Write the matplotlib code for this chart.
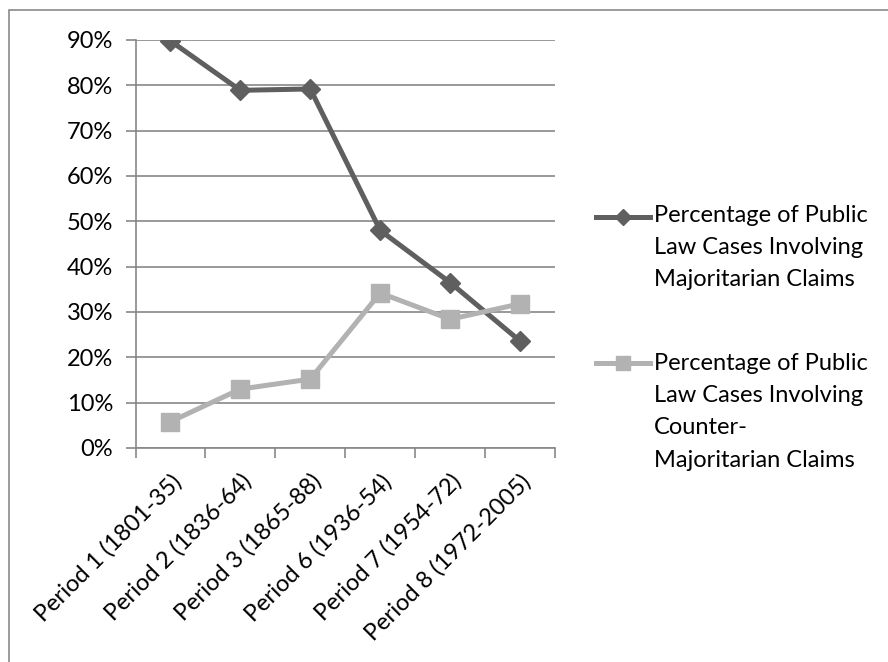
import numpy as np
import matplotlib
matplotlib.use('Agg')
import matplotlib.pyplot as plt
from matplotlib.lines import Line2D
from matplotlib.patches import Rectangle
from matplotlib.ticker import FixedLocator, PercentFormatter

plt.rcParams['font.family'] = ['Lato', 'DejaVu Sans']

periodos = ['Period 1 (1801-35)', 'Period 2 (1836-64)', 'Period 3 (1865-88)',
            'Period 6 (1936-54)', 'Period 7 (1954-72)', 'Period 8 (1972-2005)']
majoritarios = [89.8, 78.9, 79.2, 48.0, 36.5, 23.6]
contra_majoritarios = [5.8, 13.0, 15.2, 34.2, 28.4, 31.8]
rotulo_maj = 'Percentage of Public\nLaw Cases Involving\nMajoritarian Claims'
rotulo_contra = 'Percentage of Public\nLaw Cases Involving\nCounter-\nMajoritarian Claims'

cor_escura = '#5f5f5f'
cor_clara = '#b2b2b2'
cor_eixo = '#878787'
tam_fonte = 17

fig = plt.figure(figsize=(8.88, 6.62), dpi=100)
W, H = 888, 662

# moldura externa (so topo e esquerda aparecem)
fig.patches.append(Rectangle((9 / W, -0.1), 1.2, 1 - 10 / H + 0.1, transform=fig.transFigure,
                             fill=False, edgecolor='#8a8a8a', linewidth=1.2))

ax = fig.add_axes([135.5 / W, 1 - 448 / H, (555 - 135.5) / W, (448 - 40) / H])

x = np.arange(len(periodos))
ax.plot(x, majoritarios, color=cor_escura, linewidth=3.6, marker='D', markersize=10.5,
        markerfacecolor=cor_escura, markeredgecolor=cor_escura, zorder=3)
ax.plot(x, contra_majoritarios, color=cor_clara, linewidth=3.6, marker='s', markersize=13,
        markerfacecolor=cor_clara, markeredgecolor=cor_clara, zorder=3)

ax.set_xlim(-0.5, len(periodos) - 0.5)
ax.set_ylim(0, 90)
ax.set_yticks(np.arange(0, 91, 10))
ax.yaxis.set_major_formatter(PercentFormatter(decimals=0))
ax.grid(axis='y', color=cor_eixo, linewidth=1.2)
ax.set_axisbelow(True)

ax.xaxis.set_major_locator(FixedLocator(np.arange(-0.5, len(periodos), 1)))
ax.set_xticklabels([])
ax.set_xticks(x, minor=True)
ax.set_xticklabels(periodos, minor=True, rotation=45, ha='right', rotation_mode='anchor')
ax.tick_params(axis='x', which='minor', length=0, pad=16, labelsize=tam_fonte)
ax.tick_params(axis='x', which='major', length=7, color=cor_eixo, width=1.2)
ax.tick_params(axis='y', length=7, color=cor_eixo, width=1.2, pad=9, labelsize=tam_fonte)

for lado in ['top', 'right']:
    ax.spines[lado].set_visible(False)
for lado in ['left', 'bottom']:
    ax.spines[lado].set_color(cor_eixo)
    ax.spines[lado].set_linewidth(1.2)

# legenda desenhada a mao, alinhada com a primeira linha de cada item
for y_px, topo_px, cor, mk, ms, texto in [(217, 205, cor_escura, 'D', 8, rotulo_maj),
                                          (363, 353, cor_clara, 's', 10, rotulo_contra)]:
    yf = 1 - y_px / H
    fig.add_artist(Line2D([596 / W, 650 / W], [yf, yf], color=cor, linewidth=3.6,
                          transform=fig.transFigure))
    fig.add_artist(Line2D([623 / W], [yf], color=cor, marker=mk, markersize=ms,
                          linestyle='none', transform=fig.transFigure))
    fig.text(654 / W, 1 - topo_px / H, texto, ha='left', va='top', fontsize=tam_fonte,
             linespacing=1.66)

fig.savefig('out.png', dpi=100)
